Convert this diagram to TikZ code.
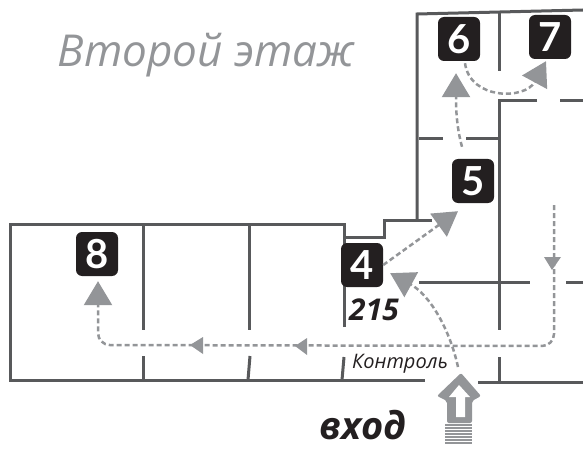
\documentclass[tikz,border=0pt]{standalone}
\usepackage{fontspec}
\setmainfont{Open Sans}
\newfontfamily\digitfont{Lato}
\usetikzlibrary{arrows.meta}
\definecolor{planwall}{RGB}{88, 89, 91}
\definecolor{plangrey}{RGB}{147, 149, 152}
\definecolor{planblack}{RGB}{35, 31, 32}
\tikzstyle{wall} = [
  line width=3pt,
  draw=planwall,
]
\tikzstyle{badge} = [
  fill=planblack,
  rounded corners=6pt,
  minimum width=42pt,
  minimum height=44pt,
  inner sep=0pt,
  text=white,
  font=\digitfont\bfseries\fontsize{40}{40}\selectfont,
]
\tikzstyle{route} = [
  line width=2.5pt,
  draw=plangrey,
  dash pattern=on 5pt off 3pt,
]
\tikzstyle{bigtip} = [
  -{Triangle[length=24pt,width=28pt,fill=plangrey,color=plangrey]},
]
\tikzstyle{hand} = [
  inner sep=0pt,
  font=\itshape,
]

\begin{document}
\begin{tikzpicture}[x=1pt,y=-1pt]
  \useasboundingbox (0,0) rectangle (583,449);

  % Walls
  \draw[wall] (583,10) -- (417,14) -- (417,221);
  \draw[wall] (499,12) -- (499,71);
  \draw[wall] (537,101) -- (499,101) -- (499,330);
  \draw[wall] (560,101) -- (583,101);
  \draw[wall] (419,139) -- (443,139);
  \draw[wall] (466,139) -- (499,139);
  \draw[wall] (432,220) -- (384,220) -- (384,237) -- (344,237);
  \draw[wall] (344,327) -- (344,224) -- (10,224) -- (10,380) -- (425,380);
  \draw[wall] (143,224) -- (143,330);
  \draw[wall] (143,356) -- (143,380);
  \draw[wall] (249,224) -- (249,330);
  \draw[wall] (250,356) -- (248,380);
  \draw[wall] (344,357) -- (342,380);
  \draw[wall] (419,282) -- (530,282);
  \draw[wall] (566,282) -- (583,282);
  \draw[wall] (499,357) -- (499,382);
  \draw[wall] (478,382) -- (583,382);

  % Rooms
  \node[badge] (room4) at (362,265) {4};
  \node[badge] (room5) at (473,181) {5};
  \node[badge] (room6) at (459,39) {6};
  \node[badge] (room7) at (550,37) {7};
  \node[badge] (room8) at (97,254) {8};

  % Route
  \coordinate (door) at (458,367);
  \coordinate (stair) at (554,205);
  \draw[route,bigtip] (door) .. controls (450,330) and (430,295) .. ([shift={(7,-14)}]room4.south east);
  \draw[route,bigtip] (room4.east) -- ([shift={(-15,8)}]room5.south);
  \draw[route,bigtip] ([shift={(-11,-12)}]room5.north) .. controls (456,125) and (456,105) .. ([shift={(-3,12)}]room6.south);
  \draw[route,bigtip] ([shift={(6,2)}]room6.south) .. controls (470,100) and (525,100) .. ([shift={(-4,2)}]room7.south);
  \draw[route,bigtip,rounded corners=12pt] (stair) -- (554,346) -- (98,345) -- ([shift={(1,5)}]room8.south);

  % Small arrows along the route
  \fill[plangrey] (552,270) -- (544,257) -- (561,257) -- cycle;
  \fill[plangrey] (295,346) -- (307,338) -- (307,355) -- cycle;
  \fill[plangrey] (190,345) -- (203,337) -- (203,354) -- cycle;

  % Entrance
  \fill[plangrey,rounded corners=2pt] (461,373) -- (481,396) -- (472,401) -- (472,423) -- (447,423) -- (447,401) -- (437,396) -- cycle;
  \fill[white] (459,385) -- (470,397) -- (465,397) -- (465,417) -- (456,417) -- (456,397) -- (449,397) -- cycle;
  \foreach \y in {425,428,431,434,437,440,443}
    \draw[plangrey,line width=1.6pt] (445,\y) -- (472,\y);

  % Labels
  \node[hand,text=plangrey,font=\itshape\fontsize{44}{44}\selectfont] (title) at (206,55) {Второй этаж};
  \node[hand,text=planblack,font=\itshape\bfseries\fontsize{30}{30}\selectfont] (number) at (374,310) {215};
  \node[hand,text=planblack,font=\itshape\fontsize{20}{20}\selectfont] (control) at (400,364) {Контроль};
  \node[hand,text=planblack,font=\itshape\bfseries\fontsize{38}{38}\selectfont] (entry) at (363,425) {вход};
\end{tikzpicture}
\end{document}
